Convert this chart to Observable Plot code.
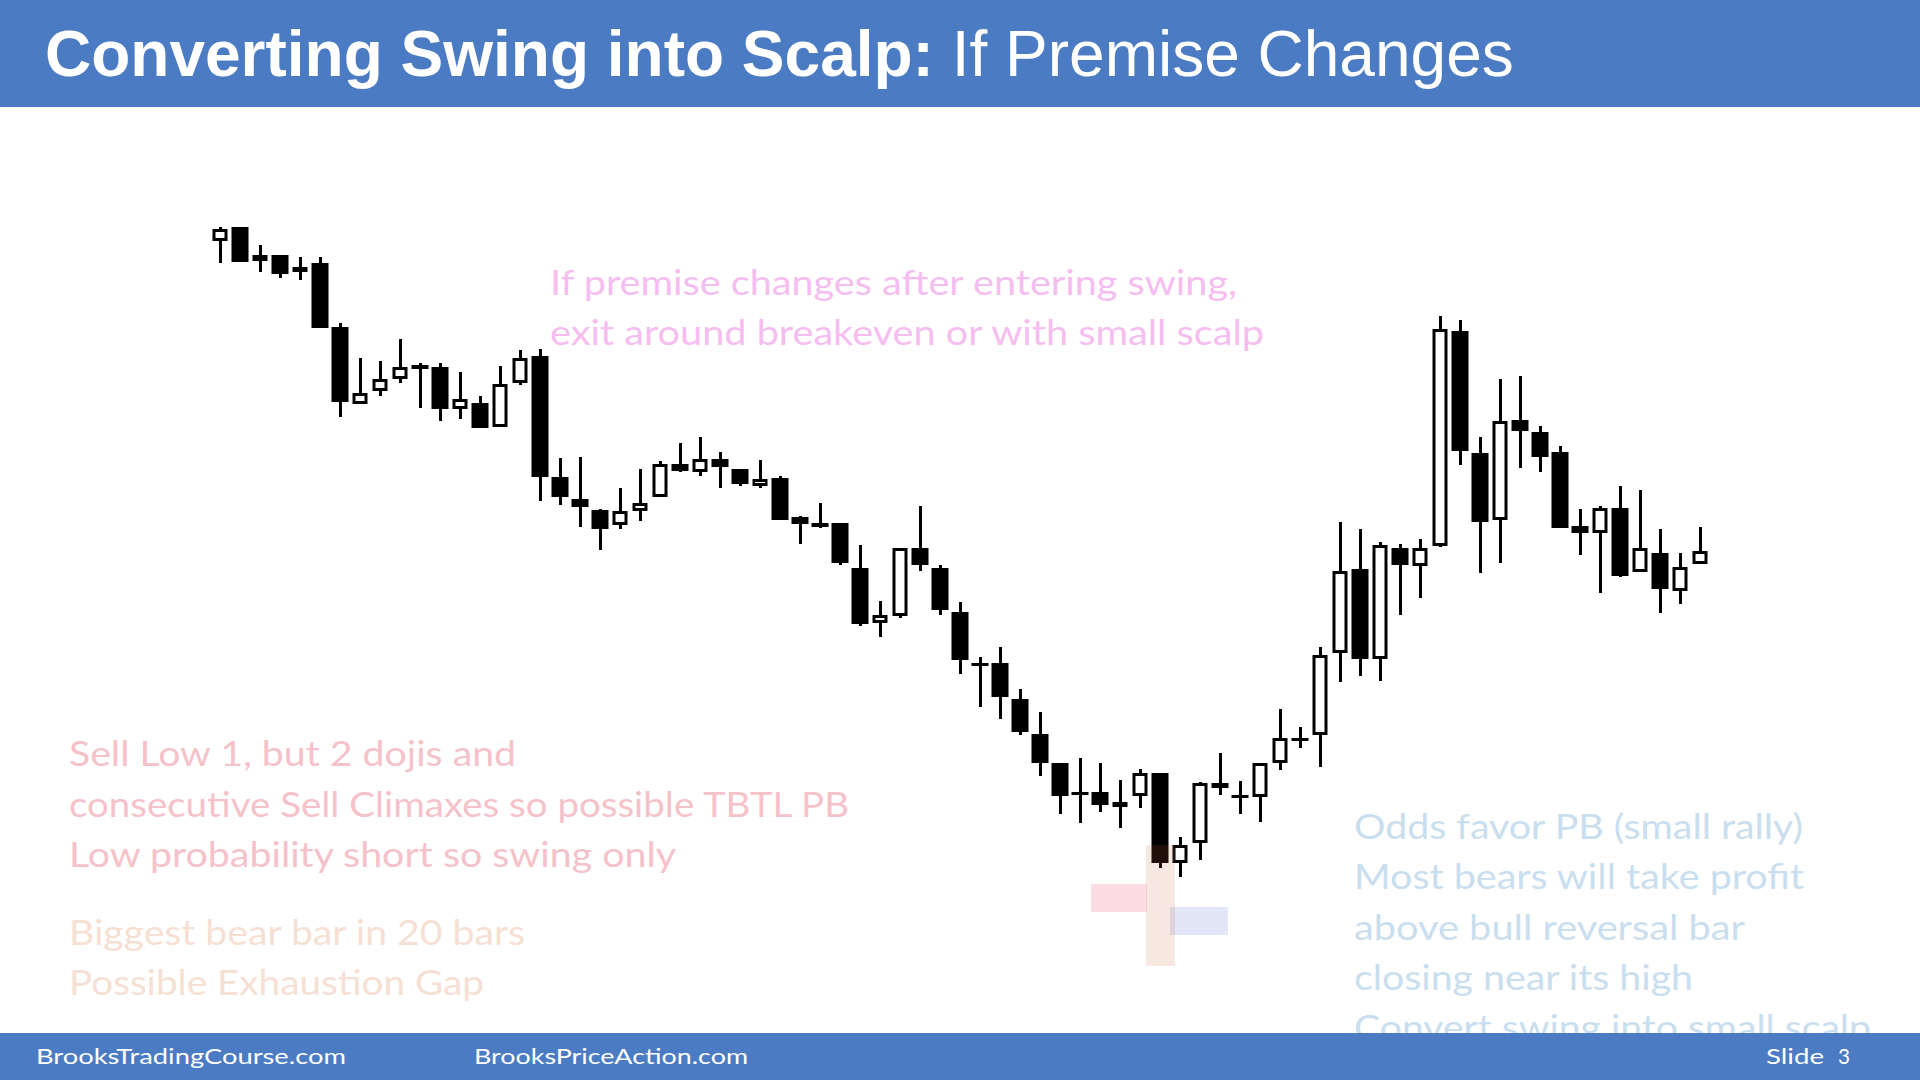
<!DOCTYPE html>
<html>
<head>
<meta charset="utf-8">
<script src="https://cdn.jsdelivr.net/npm/d3@7"></script>
<script src="https://cdn.jsdelivr.net/npm/@observablehq/plot@0.6"></script>
<style>
  html, body { margin: 0; padding: 0; background: #fff; width: 1920px; height: 1080px; overflow: hidden; }
  #chart { position: absolute; left: 0; top: 0; }
  #overlay { position: absolute; left: 0; top: 0; }
</style>
</head>
<body>
<div id="chart"></div>
<svg id="overlay" width="1920" height="1080" xmlns="http://www.w3.org/2000/svg"></svg>
<script>
// ---- Data: 75 bars (price units) ----
const open  = [759,773,739,745,728,737,673,596,609,621,635,633,591,597,573,617,644,523,501,490,
               475,489,503,536,528,541,531,514,522,483,477,477,432,377,384,452,432,388,337,337,
               301,266,237,208,208,193,204,227,137,157,217,205,203,237,262,265,347,431,341,452,
               434,454,669,547,480,580,568,548,474,467,492,428,447,409,436];
const high  = [773,773,755,745,743,743,677,642,639,661,637,637,628,604,634,650,651,542,543,491,
               512,531,539,557,563,548,531,540,524,484,497,477,455,399,452,494,435,398,343,353,
               311,288,237,242,237,220,231,227,163,218,247,219,237,291,273,353,478,471,458,456,
               461,684,680,563,621,624,574,554,491,494,514,510,471,447,473];
const low   = [737,738,728,722,720,672,583,596,604,617,592,579,581,572,573,615,499,495,473,450,
               471,479,503,528,524,512,514,512,480,456,472,435,374,363,382,429,385,326,293,281,
               265,224,186,177,188,172,192,132,123,140,205,186,178,230,252,233,318,324,319,385,
               402,453,535,427,437,532,528,472,445,407,423,428,387,396,436];
const close = [771,738,745,726,733,672,598,607,621,633,631,591,601,572,616,642,523,503,493,471,
               489,497,536,529,541,533,516,521,480,476,473,437,376,385,452,435,390,340,334,303,
               268,237,204,205,195,198,227,137,155,217,212,202,237,262,259,345,429,341,455,435,
               452,671,549,478,579,569,543,472,467,492,424,452,411,433,449];

// Highlight boxes near the low of the move (bar index, price)
const boxNames = ["pink", "lavender", "beige"];
const boxX1 = [44.55, 48.5, 47.3];
const boxX2 = [47.35, 51.4, 48.75];
const boxY1 = [88, 65, 34];
const boxY2 = [116, 93, 155];
const boxFill = ["#fbdde3", "#e3e6f7", "rgb(200,110,60)"];
const boxOpacity = [1, 1, 0.15];

const bars = open.map((o, k) => ({i: k + 1, open: o, high: high[k], low: low[k], close: close[k]}));
const bulls = bars.filter(d => d.close > d.open);
const bears = bars.filter(d => d.close <= d.open);
const boxes = boxNames.map((n, k) => ({name: n, x1: boxX1[k], x2: boxX2[k], y1: boxY1[k], y2: boxY2[k], fill: boxFill[k], op: boxOpacity[k]}));

const chart = Plot.plot({
  width: 1920,
  height: 1080,
  margin: 0,
  style: {background: "transparent", overflow: "visible"},
  x: {type: "linear", domain: [-10, 86], axis: null},
  y: {domain: [-80, 1000], axis: null},
  marks: [
    Plot.rect(boxes.filter(b => b.op === 1), {x1: "x1", x2: "x2", y1: "y1", y2: "y2", fill: "fill"}),
    Plot.ruleX(bars, {x: "i", y1: "low", y2: "high", stroke: "black", strokeWidth: 3}),
    Plot.rect(bears, {x1: d => d.i - 0.5, x2: d => d.i + 0.5, y1: "open", y2: "close",
      fill: "black", insetLeft: 1.5, insetRight: 1.5}),
    Plot.rect(bulls, {x1: d => d.i - 0.5, x2: d => d.i + 0.5, y1: "open", y2: "close",
      fill: "white", stroke: "black", strokeWidth: 3,
      insetLeft: 4, insetRight: 4, insetTop: 1.5, insetBottom: 1.5}),
    Plot.rect(boxes.filter(b => b.op < 1), {x1: "x1", x2: "x2", y1: "y1", y2: "y2", fill: "fill", fillOpacity: "op"})
  ]
});
document.getElementById("chart").appendChild(chart);

// ---- Slide texts ----
const NS = "http://www.w3.org/2000/svg";
const ov = document.getElementById("overlay");
function txt(parent, s, x, y, opts) {
  const t = document.createElementNS(NS, "text");
  t.setAttribute("x", x); t.setAttribute("y", y);
  t.setAttribute("font-family", opts.font || "Lato, 'Open Sans', sans-serif");
  t.setAttribute("font-size", opts.size || 34);
  t.setAttribute("fill", opts.fill || "#000");
  if (opts.len) { t.setAttribute("textLength", opts.len); t.setAttribute("lengthAdjust", "spacingAndGlyphs"); }
  t.textContent = s;
  parent.appendChild(t);
  return t;
}
function rect(x, y, w, h, fill) {
  const r = document.createElementNS(NS, "rect");
  r.setAttribute("x", x); r.setAttribute("y", y); r.setAttribute("width", w); r.setAttribute("height", h);
  r.setAttribute("fill", fill);
  ov.appendChild(r);
}

const pinkLines = ["If premise changes after entering swing,", "exit around breakeven or with small scalp"];
const pinkLen = [687, 714];
pinkLines.forEach((s, k) => txt(ov, s, 550, 295 + 50 * k, {fill: "#f5bdf0", len: pinkLen[k]}));

const salmonLines = ["Sell Low 1, but 2 dojis and", "consecutive Sell Climaxes so possible TBTL PB", "Low probability short so swing only"];
const salmonLen = [447, 780, 607];
salmonLines.forEach((s, k) => txt(ov, s, 69, 766 + 50.5 * k, {fill: "#f5c2ca", len: salmonLen[k]}));

const peachLines = ["Biggest bear bar in 20 bars", "Possible Exhaustion Gap"];
const peachLen = [456, 415];
peachLines.forEach((s, k) => txt(ov, s, 69, 945 + 50 * k, {fill: "#f6dfd3", len: peachLen[k]}));

const blueLines = ["Odds favor PB (small rally)", "Most bears will take profit", "above bull reversal bar", "closing near its high", "Convert swing into small scalp"];
const blueLen = [449, 450, 391, 339, 517];
blueLines.forEach((s, k) => txt(ov, s, 1354, 839 + 50.3 * k, {fill: "#c9deee", len: blueLen[k]}));

// header
const BLUE = "#4a7bc3";
rect(0, 0, 1920, 107, BLUE);
const title = document.createElementNS(NS, "text");
title.setAttribute("x", 45); title.setAttribute("y", 76);
title.setAttribute("font-family", "'Liberation Sans', Arial, sans-serif");
title.setAttribute("font-size", 64); title.setAttribute("fill", "#fff");
const t1 = document.createElementNS(NS, "tspan"); t1.setAttribute("font-weight", "bold"); t1.textContent = "Converting Swing into Scalp:";
const t2 = document.createElementNS(NS, "tspan"); t2.textContent = " If Premise Changes";
title.appendChild(t1); title.appendChild(t2);
ov.appendChild(title);

// footer
rect(0, 1033, 1920, 47, BLUE);
txt(ov, "BrooksTradingCourse.com", 36, 1064, {fill: "#fff", size: 22, len: 310});
txt(ov, "BrooksPriceAction.com", 474, 1064, {fill: "#fff", size: 22, len: 274});
txt(ov, "Slide", 1766, 1064, {fill: "#fff", size: 22, len: 58});
txt(ov, "3", 1838, 1064, {fill: "#fff", size: 22, len: 12});
</script>
</body>
</html>
